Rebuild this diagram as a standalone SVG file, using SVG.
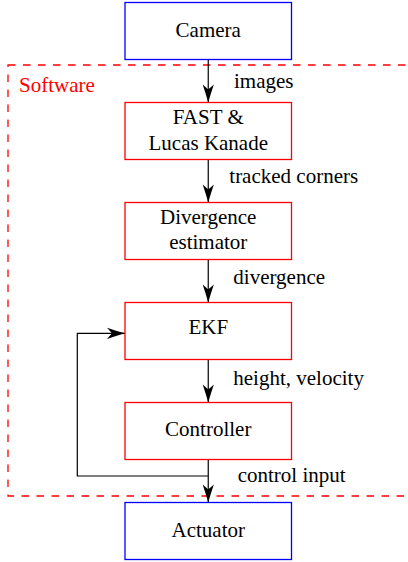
<svg xmlns="http://www.w3.org/2000/svg" width="408" height="562" viewBox="0 0 408 562">
<style>
.t{font-family:'Liberation Serif',serif;font-size:21px}
.c{text-anchor:middle}
.hw{fill:#fff;stroke:#0000ff;stroke-width:1.3}
.sw{fill:#fff;stroke:#ff0000;stroke-width:1.3}
.ln{fill:none;stroke:#000;stroke-width:1.2}
</style>
<defs>
<marker id="ah" markerUnits="userSpaceOnUse" markerWidth="20" markerHeight="14" viewBox="-19 -7 20 14" refX="0" refY="0" orient="auto">
<path d="M0,0 C-6,-1.6 -12,-3.6 -18,-5.6 L-13,0 L-18,5.6 C-12,3.6 -6,1.6 0,0 Z" fill="#000"/>
</marker>
</defs>
<g id="software">
<rect x="8" y="65" width="410" height="431" fill="none" stroke="#ff0000" stroke-width="1.3" stroke-dasharray="7.5 7.5"/>
<text class="t" x="19" y="91.5" fill="#ff0000" font-family="Liberation Serif, serif">Software</text>
</g>
<g id="connectors" font-family="Liberation Serif, serif" font-size="21">
<line class="ln" x1="208.25" y1="59.5" x2="208.25" y2="102.5" marker-end="url(#ah)"/>
<line class="ln" x1="208.25" y1="159.5" x2="208.25" y2="202.5" marker-end="url(#ah)"/>
<line class="ln" x1="208.25" y1="259.5" x2="208.25" y2="302.5" marker-end="url(#ah)"/>
<line class="ln" x1="208.25" y1="359.5" x2="208.25" y2="402.5" marker-end="url(#ah)"/>
<line class="ln" x1="208.25" y1="459.5" x2="208.25" y2="502.5" marker-end="url(#ah)"/>
<polyline class="ln" points="208.25,476 77.3,476 77.3,333.3 125,333.3" marker-end="url(#ah)"/>
<text class="t" x="234" y="87.7">images</text>
<text class="t" x="229.3" y="183.3">tracked corners</text>
<text class="t" x="233.3" y="283.5">divergence</text>
<text class="t" x="233.3" y="385">height, velocity</text>
<text class="t" x="237.7" y="481.7">control input</text>
</g>
<g id="camera" font-family="Liberation Serif, serif" font-size="21">
<rect class="hw" x="125" y="2.5" width="166.5" height="57"/>
<text class="t c" x="208.25" y="36.5">Camera</text>
</g>
<g id="fast" font-family="Liberation Serif, serif" font-size="21">
<rect class="sw" x="125" y="102.5" width="166.5" height="57"/>
<text class="t c" x="208.25" y="124">FAST &amp;</text>
<text class="t c" x="208.25" y="150">Lucas Kanade</text>
</g>
<g id="divergence" font-family="Liberation Serif, serif" font-size="21">
<rect class="sw" x="125" y="202.5" width="166.5" height="57"/>
<text class="t c" x="208.25" y="223.5">Divergence</text>
<text class="t c" x="208.25" y="248.5">estimator</text>
</g>
<g id="ekf" font-family="Liberation Serif, serif" font-size="21">
<rect class="sw" x="125" y="302.5" width="166.5" height="57"/>
<text class="t c" x="208.25" y="333.5">EKF</text>
</g>
<g id="controller" font-family="Liberation Serif, serif" font-size="21">
<rect class="sw" x="125" y="402.5" width="166.5" height="57"/>
<text class="t c" x="208.25" y="435.7">Controller</text>
</g>
<g id="actuator" font-family="Liberation Serif, serif" font-size="21">
<rect class="hw" x="125" y="502.5" width="166.5" height="57"/>
<text class="t c" x="208.25" y="536.7">Actuator</text>
</g>
</svg>
